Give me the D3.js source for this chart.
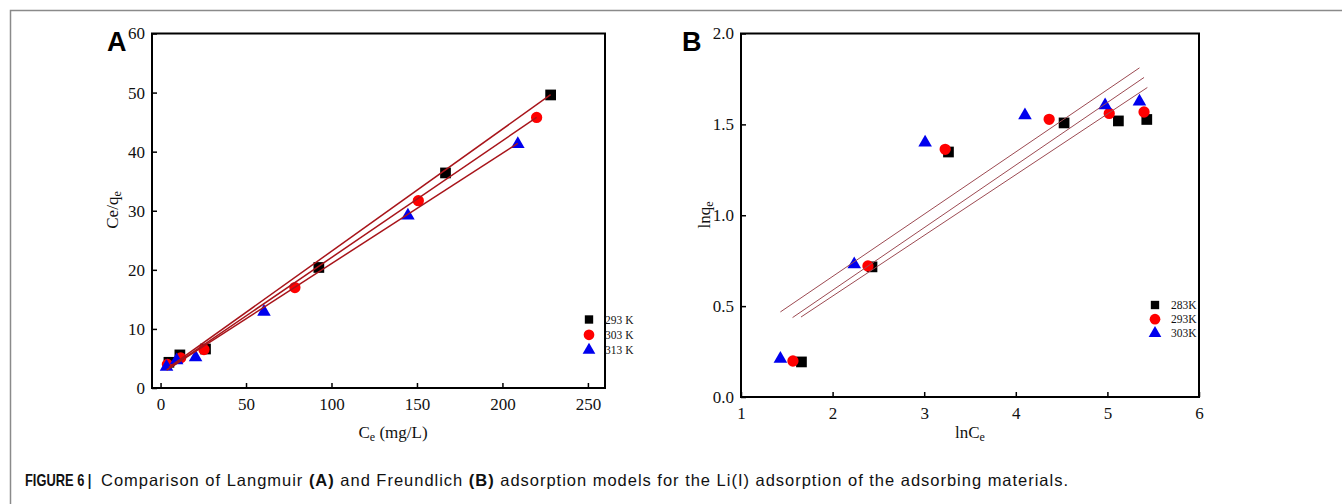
<!DOCTYPE html>
<meta charset="utf-8">
<style>
body { margin: 0; background: #fff; }
svg { display: block; }
.tick text { font: 17px "Liberation Serif", "Times New Roman", serif; fill: #111; }
.axis path, .axis line { stroke: #000; stroke-width: 1.5px; }
.title { font: 17px "Liberation Serif", "Times New Roman", serif; fill: #111; }
.leg { font: 11.5px "Liberation Serif", "Times New Roman", serif; fill: #111; }
.panel { font: bold 27px "Liberation Sans", Arial, sans-serif; fill: #000; }
.caption { font-family: "Liberation Sans", Arial, sans-serif; font-size: 16.5px; fill: #111; }
</style>
<svg width="1342" height="504"></svg>
<script src="https://d3js.org/d3.v7.min.js"></script>
<script>
// Panel A: Langmuir, Ce (mg/L) vs Ce/qe
var langLabels = ["293 K", "303 K", "313 K"];
var langCe = [
  [4.9, 11.3, 26.3, 92.6, 166.7, 228.2],
  [4.0, 11.8, 25.4, 78.6, 150.8, 220.0],
  [3.5, 9.4, 20.5, 60.5, 144.7, 209.0]
];
var langCq = [
  [4.35, 5.6, 6.6, 20.4, 36.4, 49.6],
  [4.0, 5.1, 6.5, 17.0, 31.7, 45.8],
  [3.6, 4.7, 5.2, 12.9, 29.2, 41.3]
];
// linear fits: slope, intercept, x range
var langSlope = [0.2067, 0.1977, 0.1868];
var langIntercept = [2.47, 2.31, 2.37];
var langFrom = [4.9, 4.0, 3.5];
var langTo = [228.2, 220.0, 209.0];

// Panel B: Freundlich, lnCe vs lnqe
var freuLabels = ["283K", "293K", "303K"];
var freuLnC = [
  [1.66, 2.43, 3.265, 4.527, 5.12, 5.43],
  [1.567, 2.386, 3.229, 4.364, 5.02, 5.40],
  [1.43, 2.236, 3.01, 4.10, 4.975, 5.35]
];
var freuLnQ = [
  [0.193, 0.716, 1.348, 1.508, 1.519, 1.527],
  [0.198, 0.721, 1.363, 1.528, 1.56, 1.568],
  [0.21, 0.73, 1.40, 1.55, 1.605, 1.625]
];
var freuSlope = [0.334, 0.3443, 0.3426];
var freuIntercept = [-0.1128, -0.1011, -0.0219];
var freuFrom = [1.655, 1.563, 1.43];
var freuTo = [5.436, 5.40, 5.35];

var symbols = [d3.symbolSquare, d3.symbolCircle, d3.symbolTriangle];
var colors = ["#000000", "#ff0000", "#0000ee"];
var sizes = [115, 100, 80];

var svg = d3.select("svg");

// outer figure border (top and left only)
svg.append("path")
    .attr("d", "M10.5,504 V10.5 H1342")
    .attr("fill", "none")
    .attr("stroke", "#8a8a8a")
    .attr("stroke-width", 1.5);

function panel(opt) {
  var g = svg.append("g");
  var x = d3.scaleLinear().domain(opt.xDomain).range(opt.xRange);
  var y = d3.scaleLinear().domain(opt.yDomain).range(opt.yRange);

  // frame
  g.append("rect")
      .attr("x", opt.xRange[0]).attr("y", opt.yRange[1])
      .attr("width", opt.xRange[1] - opt.xRange[0])
      .attr("height", opt.yRange[0] - opt.yRange[1])
      .attr("fill", "none").attr("stroke", "#000").attr("stroke-width", 2);

  g.append("g").attr("class", "axis")
      .attr("transform", "translate(0," + opt.yRange[0] + ")")
      .call(d3.axisBottom(x).tickValues(opt.xTicks).tickSize(-5).tickPadding(10).tickFormat(opt.xFormat))
      .call(function(a) { a.select(".domain").remove(); });
  g.append("g").attr("class", "axis")
      .attr("transform", "translate(" + opt.xRange[0] + ",0)")
      .call(d3.axisLeft(y).tickValues(opt.yTicks).tickSize(-5).tickPadding(7).tickFormat(opt.yFormat))
      .call(function(a) { a.select(".domain").remove(); });

  // points
  opt.xs.forEach(function(xs, i) {
    g.selectAll(null).data(xs.map(function(v, j) { return [v, opt.ys[i][j]]; }))
      .enter().append("path")
        .attr("transform", function(d) { return "translate(" + x(d[0]) + "," + y(d[1]) + ")"; })
        .attr("d", d3.symbol().type(symbols[i]).size(sizes[i]))
        .attr("fill", colors[i]);
  });

  // fitted lines
  var line = d3.line().x(function(d) { return x(d[0]); }).y(function(d) { return y(d[1]); });
  opt.slope.forEach(function(s, i) {
    var pts = [opt.from[i], opt.to[i]].map(function(v) { return [v, s * v + opt.intercept[i]]; });
    g.append("path").attr("d", line(pts))
        .attr("fill", "none").attr("stroke", opt.lineColor).attr("stroke-width", opt.lineWidth);
  });

  // legend
  opt.labels.forEach(function(lab, i) {
    var ly = opt.legY + i * opt.legStep;
    g.append("path")
        .attr("transform", "translate(" + opt.legX + "," + ly + ")")
        .attr("d", d3.symbol().type(symbols[i]).size(opt.legSize[i]))
        .attr("fill", colors[i]);
    g.append("text").attr("class", "leg")
        .attr("x", opt.legX + 16).attr("y", ly + 4).text(lab);
  });

  g.append("text").attr("class", "panel")
      .attr("x", opt.letterX).attr("y", 51).text(opt.letter);

  return {g: g, x: x, y: y};
}

var a = panel({
  xDomain: [-5, 260], xRange: [152, 605],
  yDomain: [0, 60], yRange: [388, 33.5],
  xTicks: [0, 50, 100, 150, 200, 250], yTicks: [0, 10, 20, 30, 40, 50, 60],
  xFormat: d3.format("d"), yFormat: d3.format("d"),
  xs: langCe, ys: langCq,
  slope: langSlope, intercept: langIntercept, from: langFrom, to: langTo,
  lineColor: "#a8141a", lineWidth: 1.5,
  labels: langLabels, legX: 589, legY: 319.5, legStep: 15.3, legSize: [70, 90, 70],
  letter: "A", letterX: 107
});

var b = panel({
  xDomain: [1, 6], xRange: [741, 1199],
  yDomain: [0, 2], yRange: [397, 33.5],
  xTicks: [1, 2, 3, 4, 5, 6], yTicks: [0, 0.5, 1.0, 1.5, 2.0],
  xFormat: d3.format("d"), yFormat: d3.format(".1f"),
  xs: freuLnC, ys: freuLnQ,
  slope: freuSlope, intercept: freuIntercept, from: freuFrom, to: freuTo,
  lineColor: "#9c4a52", lineWidth: 1,
  labels: freuLabels, legX: 1155, legY: 305, legStep: 14.2, legSize: [70, 90, 70],
  letter: "B", letterX: 682
});

// axis titles
function subTitle(parts, x, y, rotate) {
  var el = svg.append("text").attr("class", "title")
      .attr("text-anchor", "middle")
      .attr("transform", "translate(" + x + "," + y + ")" + (rotate ? " rotate(-90)" : ""));
  parts.forEach(function(p) {
    var ts = el.append("tspan").text(p[0]);
    if (p[1]) ts.attr("baseline-shift", "-25%").attr("font-size", "12px");
  });
}
subTitle([["C"], ["e", true], [" (mg/L)"]], 393, 438, false);
subTitle([["Ce/q"], ["e", true]], 118, 210, true);
subTitle([["lnC"], ["e", true]], 970, 438, false);
subTitle([["lnq"], ["e", true]], 710, 215, true);

// caption: condensed bold lead, then the regular sentence stretched to its measured width
svg.append("text").attr("class", "caption")
    .attr("transform", "translate(25,486) scale(0.78,1)")
    .style("font-weight", "bold")
    .text("FIGURE 6 |");
var cap = svg.append("text").attr("class", "caption").attr("x", 101).attr("y", 486)
    .attr("textLength", 967).attr("lengthAdjust", "spacing");
cap.append("tspan").text("Comparison of Langmuir ");
cap.append("tspan").style("font-weight", "bold").text("(A)");
cap.append("tspan").text(" and Freundlich ");
cap.append("tspan").style("font-weight", "bold").text("(B)");
cap.append("tspan").text(" adsorption models for the Li(I) adsorption of the adsorbing materials.");
</script>
